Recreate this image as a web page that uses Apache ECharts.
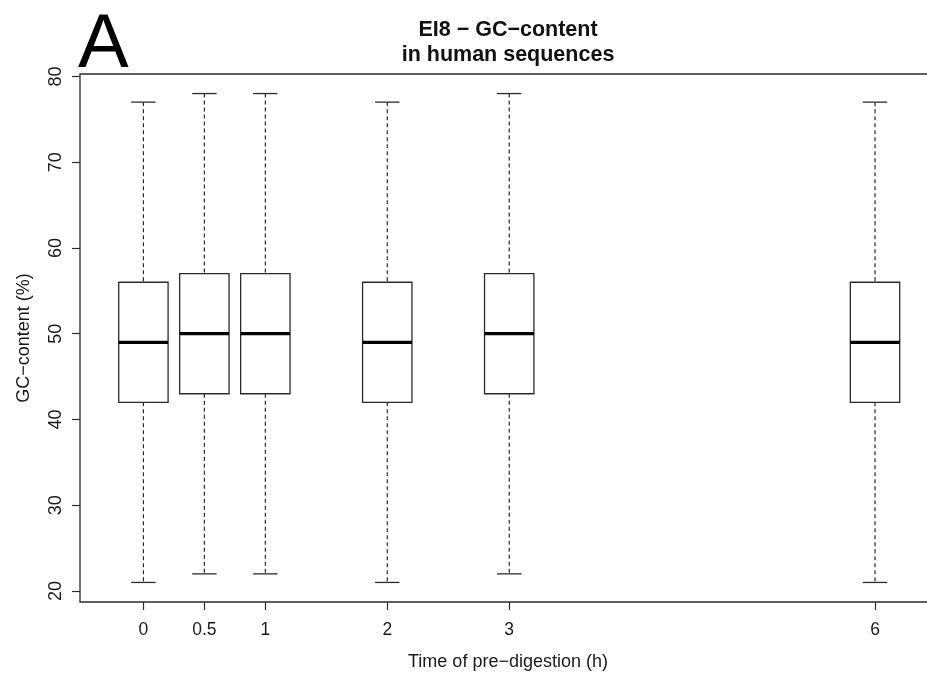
<!DOCTYPE html>
<html>
<head>
<meta charset="utf-8">
<script src="https://cdn.jsdelivr.net/npm/echarts@6/dist/echarts.min.js"></script>
<style>
  html, body { margin: 0; padding: 0; background: #fff; }
  #chart { width: 927px; height: 673px; }
</style>
</head>
<body>
<div id="chart"></div>
<script>
// Hours of pre-digestion, one box per time point
const times = [0, 0.5, 1, 2, 3, 6];
const whiskerLow = [21, 22, 22, 21, 22, 21];
const lowerQuartile = [42, 43, 43, 42, 43, 42];
const medians = [49, 50, 50, 49, 50, 49];
const upperQuartile = [56, 57, 57, 56, 57, 56];
const whiskerHigh = [77, 78, 78, 77, 78, 77];

const yTicks = [20, 30, 40, 50, 60, 70, 80];
const xTicks = [0, 0.5, 1, 2, 3, 6];

const FONT = '"Liberation Sans", Arial, Helvetica, sans-serif';
const INK = '#2b2b2b';

const boxData = times.map((t, i) => [
  t, whiskerLow[i], lowerQuartile[i], medians[i], upperQuartile[i], whiskerHigh[i]
]);

const BOX_WIDTH = 0.405;   // in x-axis units
const CAP_WIDTH = 0.2;

function renderBox(params, api) {
  const x = api.value(0);
  const lo = api.coord([x, api.value(1)]);
  const q1 = api.coord([x, api.value(2)]);
  const md = api.coord([x, api.value(3)]);
  const q3 = api.coord([x, api.value(4)]);
  const hi = api.coord([x, api.value(5)]);
  const halfBox = api.size([BOX_WIDTH, 0])[0] / 2;
  const halfCap = api.size([CAP_WIDTH, 0])[0] / 2;
  const cx = md[0];
  const solid = { stroke: INK, lineWidth: 1.3, fill: null };
  const dashed = { stroke: INK, lineWidth: 1.2, lineDash: [4, 3], fill: null };
  return {
    type: 'group',
    children: [
      { type: 'line', shape: { x1: cx, y1: hi[1], x2: cx, y2: q3[1] }, style: dashed },
      { type: 'line', shape: { x1: cx, y1: q1[1], x2: cx, y2: lo[1] }, style: dashed },
      { type: 'line', shape: { x1: cx - halfCap, y1: hi[1], x2: cx + halfCap, y2: hi[1] }, style: solid },
      { type: 'line', shape: { x1: cx - halfCap, y1: lo[1], x2: cx + halfCap, y2: lo[1] }, style: solid },
      { type: 'rect', shape: { x: cx - halfBox, y: q3[1], width: 2 * halfBox, height: q1[1] - q3[1] },
        style: { stroke: INK, lineWidth: 1.3, fill: '#fff' } },
      { type: 'line', shape: { x1: cx - halfBox, y1: md[1], x2: cx + halfBox, y2: md[1] },
        style: { stroke: '#000', lineWidth: 3.2 } }
    ]
  };
}

const chart = echarts.init(document.getElementById('chart'), null, { renderer: 'canvas' });

chart.setOption({
  backgroundColor: '#fff',
  animation: false,
  grid: {
    left: 80, width: 856, top: 74, bottom: 71,
    outerBoundsMode: 'none',
    show: true, borderColor: INK, borderWidth: 1.3, backgroundColor: 'transparent'
  },
  xAxis: {
    type: 'value',
    min: -0.52, max: 6.5,
    name: 'Time of pre\u2212digestion (h)',
    nameLocation: 'middle',
    nameGap: 51,
    nameTextStyle: { fontFamily: FONT, fontSize: 18, color: '#1a1a1a' },
    axisLine: { show: false, onZero: false },
    splitLine: { show: false },
    axisTick: { show: true, length: 8, customValues: xTicks, lineStyle: { color: INK, width: 1.2 } },
    axisLabel: {
      customValues: xTicks, margin: 19,
      fontFamily: FONT, fontSize: 17.5, color: '#1a1a1a',
      formatter: v => String(v)
    }
  },
  yAxis: {
    type: 'value',
    min: 18.72, max: 80.28,
    name: 'GC\u2212content (%)',
    nameLocation: 'middle',
    nameRotate: 90,
    nameGap: 47,
    nameTextStyle: { fontFamily: FONT, fontSize: 18, color: '#1a1a1a' },
    axisLine: { show: false, onZero: false },
    splitLine: { show: false },
    axisTick: { show: true, length: 8, customValues: yTicks, lineStyle: { color: INK, width: 1.2 } },
    axisLabel: {
      customValues: yTicks, rotate: 90, margin: 15,
      fontFamily: FONT, fontSize: 18, color: '#1a1a1a'
    }
  },
  graphic: [
    {
      type: 'text', left: 78, top: 8,
      style: { text: 'A', font: '76px ' + FONT, fill: '#000' }
    },
    {
      type: 'text', x: 508, y: 43,
      style: {
        text: 'EI8 \u2212 GC\u2212content\nin human sequences',
        font: 'bold 21.5px ' + FONT, fill: '#111',
        textAlign: 'center', textVerticalAlign: 'middle', lineHeight: 25
      }
    }
  ],
  series: [{
    type: 'custom',
    renderItem: renderBox,
    data: boxData,
    encode: { x: 0, y: [1, 2, 3, 4, 5] },
    clip: false
  }]
});
</script>
</body>
</html>
